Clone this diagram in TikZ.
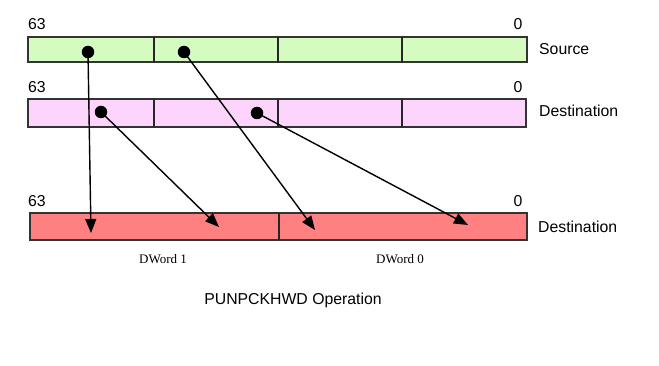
\documentclass[tikz,border=0pt]{standalone}
\usepackage{fontspec}
\setmainfont{Liberation Sans}
\newfontfamily\serifl{Liberation Serif}
\usetikzlibrary{arrows.meta}
\definecolor{srcgreen}{RGB}{212,252,192}
\definecolor{dstpink}{RGB}{252,212,252}
\definecolor{resred}{RGB}{255,128,128}
\tikzset{
  bar/.style={draw=black!80, line width=1.2pt, minimum height=#1, inner sep=0pt, outer sep=0pt, anchor=north west},
  divider/.style={draw=black!85, line width=1.2pt},
  dot/.style={circle, fill=black, minimum size=12.5pt, inner sep=0pt},
  lbl/.style={font=\fontsize{15.8}{18}\selectfont, inner sep=0pt},
  dw/.style={font=\serifl\fontsize{13}{15}\selectfont, inner sep=0pt},
  mv/.style={-{Triangle[length=14pt,width=11pt]}, line width=1.4pt, shorten <=-1pt}
}
\begin{document}
\begin{tikzpicture}[x=1pt,y=-1pt]
\useasboundingbox (0,0) rectangle (659,366);
% bars
\node[bar=25pt, minimum width=499pt, fill=srcgreen] (src) at (28,37) {};
\node[bar=28pt, minimum width=498pt, fill=dstpink] (dst) at (28,99) {};
\node[bar=27pt, minimum width=497pt, fill=resred] (res) at (30,213) {};
\foreach \x in {154,278,402}{
  \draw[divider] (\x,37) -- (\x,62);
  \draw[divider] (\x,99) -- (\x,127);
}
\draw[divider] (279,213) -- (279,240);
% labels
\node[lbl, anchor=west] (s63) at (28,24) {63};
\node[lbl] (s0) at (518,24) {0};
\node[lbl, anchor=west] (d63) at (28,87) {63};
\node[lbl] (d0) at (518,87) {0};
\node[lbl, anchor=west] (r63) at (28,201) {63};
\node[lbl] (r0) at (518,201) {0};
\node[lbl, anchor=west] (slab) at (539,49) {Source};
\node[lbl, anchor=west] (dlab) at (539,111) {Destination};
\node[lbl, anchor=west] (rlab) at (538,227) {Destination};
\node[dw] (dw1) at (163,259) {DWord 1};
\node[dw] (dw0) at (400,259) {DWord 0};
\node[lbl] (title) at (293,300) {PUNPCKHWD Operation};
% dots
\node[dot] (a) at (88,52) {};
\node[dot] (b) at (184,52) {};
\node[dot] (c) at (101,112) {};
\node[dot] (d) at (257,113) {};
\coordinate (ta) at (91,233);
\coordinate (tc) at (219,227);
\coordinate (tb) at (315,230);
\coordinate (td) at (468,225);
\draw[mv] (a.center) -- (ta);
\draw[mv] (c.center) -- (tc);
\draw[mv] (b.center) -- (tb);
\draw[mv] (d.center) -- (td);
\end{tikzpicture}
\end{document}
